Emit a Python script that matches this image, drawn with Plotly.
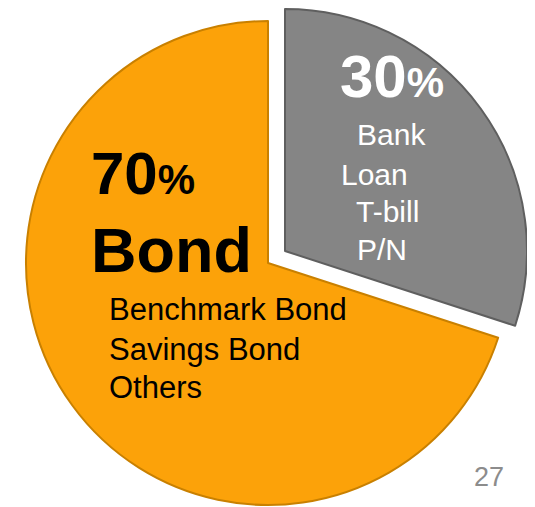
import plotly.graph_objects as go

W, H = 535, 507
OFF = 8  # page body margin offset (viewport px -> figure px)

# Data
labels = ["Bank Loan / T-bill / P/N", "Bond"]
values = [30, 70]
colors = ["#858585", "#FCA209"]
edge_colors = ["#5f5f5f", "#C98000"]

pct_labels = ["30", "70"]
gray_lines = ["Bank", "Loan", "T-bill", "P/N"]
gray_x = [355, 339, 354, 355]
gray_y = [135, 174, 211, 249]
orange_lines = ["Benchmark Bond", "Savings Bond", "Others"]
orange_y = [309, 349, 387]
page_no = "27"

FONT = "Liberation Sans, Arial, sans-serif"

# Layout geometry (viewport pixels): centre of the main pie, radius, exploded offset
R = 242
CX, CY = 268, 263
EXPLODE = (17, -12)
TRANSPARENT = "rgba(0,0,0,0)"


def domain_for(cx, cy):
    cx, cy = cx - OFF, cy - OFF
    return dict(x=[(cx - R) / W, (cx + R) / W],
                y=[1 - (cy + R) / H, 1 - (cy - R) / H])


fig = go.Figure()
# main (non-exploded) slice: Bond
fig.add_trace(go.Pie(
    labels=labels, values=values, sort=False, direction="clockwise", rotation=0,
    textinfo="none", hoverinfo="skip", showlegend=False,
    marker=dict(colors=[TRANSPARENT, colors[1]],
                line=dict(color=[TRANSPARENT, edge_colors[1]], width=2)),
    domain=domain_for(CX, CY),
))
# exploded slice: Bank Loan / T-bill / P/N
fig.add_trace(go.Pie(
    labels=labels, values=values, sort=False, direction="clockwise", rotation=0,
    textinfo="none", hoverinfo="skip", showlegend=False,
    marker=dict(colors=[colors[0], TRANSPARENT],
                line=dict(color=[edge_colors[0], TRANSPARENT], width=2)),
    domain=domain_for(CX + EXPLODE[0], CY + EXPLODE[1]),
))


def px(x):
    return (x - OFF) / W


def py(y):
    return 1 - (y - OFF) / H


ann = []
ann.append(dict(x=px(338), y=py(76), xanchor="left", yanchor="middle",
                text=f"<b>{pct_labels[0]}<span style='font-size:42px'>%</span></b>",
                font=dict(family=FONT, size=60, color="white")))
for t, x, y in zip(gray_lines, gray_x, gray_y):
    ann.append(dict(x=px(x), y=py(y), xanchor="left", yanchor="middle", text=t,
                    font=dict(family=FONT, size=30, color="white")))
ann.append(dict(x=px(89), y=py(173), xanchor="left", yanchor="middle",
                text=f"<b>{pct_labels[1]}<span style='font-size:42px'>%</span></b>",
                font=dict(family=FONT, size=60, color="black")))
ann.append(dict(x=px(89), y=py(250), xanchor="left", yanchor="middle",
                text="<b>Bond</b>", font=dict(family=FONT, size=63, color="black")))
for t, y in zip(orange_lines, orange_y):
    ann.append(dict(x=px(107), y=py(y), xanchor="left", yanchor="middle", text=t,
                    font=dict(family=FONT, size=31, color="black")))
ann.append(dict(x=px(489), y=py(477), xanchor="center", yanchor="middle", text=page_no,
                font=dict(family=FONT, size=27, color="#8c8c8c")))

for a in ann:
    a.update(xref="paper", yref="paper", showarrow=False)

fig.update_layout(width=W, height=H, margin=dict(l=0, r=0, t=0, b=0),
                  paper_bgcolor="white", plot_bgcolor="white", annotations=ann)

fig.write_html("out.html")
